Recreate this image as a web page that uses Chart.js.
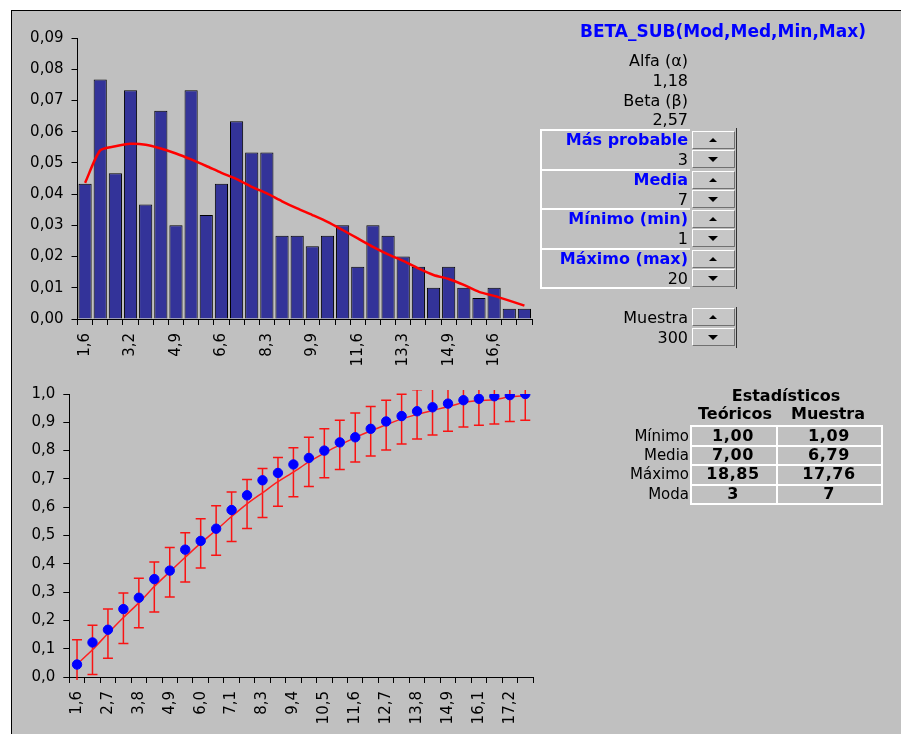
<!DOCTYPE html>
<html>
<head>
<meta charset="utf-8">
<script src="https://cdn.jsdelivr.net/npm/chart.js@4/dist/chart.umd.min.js"></script>
<style>
  html, body { margin:0; padding:0; }
  body { width:901px; height:734px; position:relative; overflow:hidden; background:#fff; font-family:"DejaVu Sans", sans-serif; }
  #frame { position:absolute; left:11px; top:10px; width:890px; height:724px; background:#c0c0c0; border-left:1px solid #000; border-top:1px solid #000; }
  canvas { position:absolute; left:0; top:0; }
  .t { position:absolute; white-space:nowrap; line-height:20px; height:20px; color:#000; font-size:16px; }
  .b { font-weight:bold; }
  .blue { color:#0000ff; }
  .title { font-size:17px; }
  .row { font-size:15px; }
  .val { font-size:16px; letter-spacing:0.6px; }
  .box { position:absolute; left:540px; width:148px; height:38px; border-top:2px solid #fff; border-left:2px solid #fff; }
  .btn { position:absolute; width:41px; height:16px; background:#c6c6c6; border-top:1px solid #fff; border-left:1px solid #fff; border-right:1px solid #707070; border-bottom:1px solid #707070; }
  .up::after { content:""; position:absolute; left:16px; top:6px; border-left:4px solid transparent; border-right:4px solid transparent; border-bottom:4px solid #000; }
  .dn::after { content:""; position:absolute; left:15px; top:6px; border-left:5px solid transparent; border-right:5px solid transparent; border-top:5px solid #000; }
  .vl { position:absolute; width:1px; background:#303030; }
  .wh { position:absolute; height:2px; background:#fff; }
  .wv { position:absolute; width:2px; background:#fff; }
</style>
</head>
<body>
<div id="frame"></div>
<canvas id="c1" width="901" height="734"></canvas>
<canvas id="c2" width="901" height="734"></canvas>
<div id="panel"></div>
<script>
// ---------- DATA ----------
const histLabels = ["1,6","2,1","2,7","3,2","3,8","4,4","4,9","5,5","6,0","6,6","7,1","7,7","8,3","8,8","9,4","9,9","10,5","11,0","11,6","12,1","12,7","13,3","13,8","14,4","14,9","15,5","16,0","16,6","17,1","17,7"];
const histFreq = [0.0433,0.0767,0.0467,0.0733,0.0367,0.0667,0.0300,0.0733,0.0333,0.0433,0.0633,0.0533,0.0533,0.0267,0.0267,0.0233,0.0267,0.0300,0.0167,0.0300,0.0267,0.0200,0.0167,0.0100,0.0167,0.0100,0.0067,0.0100,0.0033,0.0033];
const betaDensity = [0.0436,0.0540,0.0553,0.0561,0.0558,0.0546,0.0530,0.0511,0.0490,0.0468,0.0448,0.0423,0.0402,0.0377,0.0354,0.0333,0.0311,0.0285,0.0258,0.0231,0.0207,0.0186,0.0162,0.0141,0.0128,0.0109,0.0087,0.0074,0.0059,0.0043];

const cdfLabels = ["1,6","2,1","2,7","3,2","3,8","4,4","4,9","5,5","6,0","6,6","7,1","7,7","8,3","8,8","9,4","9,9","10,5","11,0","11,6","12,1","12,7","13,3","13,8","14,4","14,9","15,5","16,1","16,6","17,2","17,7"];
const empiricalCdf = [0.044,0.122,0.167,0.240,0.280,0.346,0.376,0.450,0.481,0.524,0.590,0.642,0.695,0.721,0.751,0.774,0.800,0.829,0.847,0.877,0.903,0.922,0.939,0.953,0.966,0.978,0.983,0.992,0.996,1.000];
const theoreticalCdf = [0.045,0.096,0.154,0.210,0.262,0.320,0.372,0.423,0.473,0.519,0.567,0.612,0.651,0.690,0.724,0.760,0.791,0.820,0.846,0.870,0.891,0.912,0.928,0.942,0.955,0.970,0.977,0.980,0.990,0.994];
const bandHigh = [0.132,0.183,0.240,0.297,0.349,0.406,0.458,0.510,0.559,0.605,0.654,0.698,0.737,0.776,0.810,0.847,0.877,0.907,0.933,0.956,0.978,0.999,1.015,1.029,1.042,1.057,1.064,1.067,1.077,1.081];
const bandLow = [-0.042,0.009,0.066,0.118,0.174,0.230,0.283,0.336,0.385,0.430,0.479,0.525,0.564,0.603,0.637,0.673,0.704,0.733,0.760,0.781,0.802,0.823,0.841,0.855,0.868,0.883,0.890,0.894,0.903,0.907];

// ---------- CHARTS ----------
const FONT = { family: "DejaVu Sans", size: 15 };
Chart.defaults.color = "#000";

function yAxis(width, step, dec, max) {
  return {
    min: 0, max: max,
    afterFit: s => { s.width = width; },
    afterBuildTicks: s => { s.ticks = s.ticks.filter(t => t.value <= max + 1e-9); },
    ticks: { stepSize: step, font: FONT, color: "#000", padding: 8,
      callback: v => v.toFixed(dec).replace(".", ",") },
    grid: { drawOnChartArea: false, drawTicks: true, tickLength: 6, color: "#000" },
    border: { display: true, color: "#000", width: 1 }
  };
}
function xAxis(height, every) {
  return {
    offset: true,
    afterFit: s => { s.height = height; },
    ticks: { autoSkip: false, minRotation: 90, maxRotation: 90, font: FONT, color: "#000", padding: 8,
      callback: function(v, i) { return i % every === 0 ? this.getLabelForValue(v) : ""; } },
    grid: { offset: true, drawOnChartArea: false, drawTicks: true, tickLength: 6, color: "#000" },
    border: { display: true, color: "#000", width: 1 }
  };
}

new Chart(document.getElementById("c1"), {
  type: "bar",
  data: {
    labels: histLabels,
    datasets: [
      { type: "line", data: betaDensity, borderColor: "#ff0000", borderWidth: 2.5, pointRadius: 0, tension: 0.25, order: 0 },
      { type: "bar", data: histFreq, backgroundColor: "#333399", borderColor: "#000", borderWidth: 1,
        categoryPercentage: 1, barPercentage: 0.87, order: 1 }
    ]
  },
  options: {
    responsive: false, animation: false,
    layout: { padding: { left: 12, top: 38, right: 369, bottom: 355 } },
    plugins: { legend: { display: false }, tooltip: { enabled: false } },
    scales: { x: xAxis(60, 3), y: yAxis(65.5, 0.01, 2, 0.09) }
  }
});

const errorBars = {
  id: "errorBars",
  beforeDatasetsDraw(chart) {
    const { ctx, chartArea, scales } = chart;
    ctx.save();
    ctx.beginPath();
    ctx.rect(chartArea.left - 20, chartArea.top - 4, chartArea.width + 40, chartArea.height + 7);
    ctx.clip();
    ctx.strokeStyle = "rgba(255,0,0,0.9)";
    ctx.lineWidth = 1.5;
    for (let i = 0; i < bandHigh.length; i++) {
      const x = scales.x.getPixelForValue(i);
      const yh = scales.y.getPixelForValue(bandHigh[i]);
      const yl = scales.y.getPixelForValue(bandLow[i]);
      ctx.beginPath();
      ctx.moveTo(x, yh); ctx.lineTo(x, yl);
      ctx.moveTo(x - 5, yh); ctx.lineTo(x + 5, yh);
      ctx.moveTo(x - 5, yl); ctx.lineTo(x + 5, yl);
      ctx.stroke();
    }
    ctx.restore();
  }
};

new Chart(document.getElementById("c2"), {
  type: "line",
  data: {
    labels: cdfLabels,
    datasets: [
      { data: empiricalCdf, showLine: false, pointRadius: 4.7, pointBackgroundColor: "#0000ff", pointBorderColor: "#0000ff", order: 0 },
      { data: theoreticalCdf, borderColor: "#ff2020", borderWidth: 1.5, pointRadius: 0, tension: 0.2, order: 1 }
    ]
  },
  options: {
    responsive: false, animation: false,
    layout: { padding: { left: 12, top: 394, right: 368, bottom: 7 } },
    plugins: { legend: { display: false }, tooltip: { enabled: false } },
    scales: { x: xAxis(50, 2), y: yAxis(57.3, 0.1, 1, 1.0) }
  },
  plugins: [errorBars]
});

// ---------- PANEL ----------
const P = document.getElementById("panel");
function txt(s, x, cy, cls, align) {
  const d = document.createElement("div");
  d.className = "t " + (cls || "");
  d.textContent = s;
  if (align === "c") { d.style.left = (x - 100) + "px"; d.style.width = "200px"; d.style.textAlign = "center"; }
  else { d.style.left = (x - 300) + "px"; d.style.width = "300px"; d.style.textAlign = "right"; }
  d.style.top = (cy - 10) + "px";
  P.appendChild(d);
}
function el(cls, x, y, w, h) {
  const d = document.createElement("div");
  d.className = cls;
  d.style.left = x + "px"; d.style.top = y + "px";
  if (w != null) d.style.width = w + "px";
  if (h != null) d.style.height = h + "px";
  P.appendChild(d);
}
txt("BETA_SUB(Mod,Med,Min,Max)", 866, 31, "b blue title");
txt("Alfa (\u03B1)", 688, 61);
txt("1,18", 688, 81);
txt("Beta (\u03B2)", 688, 101);
txt("2,57", 688, 120);

const params = [["M\u00E1s probable","3"],["Media","7"],["M\u00EDnimo (min)","1"],["M\u00E1ximo (max)","20"]];
const boxTops = [129, 169, 208, 248];
params.forEach((p, i) => {
  const t = boxTops[i];
  el("box", 540, t, null, null);
  txt(p[0], 688, t + 11, "b blue");
  txt(p[1], 688, t + 31);
  el("btn up", 692, t + 2);
  el("btn dn", 692, t + 21);
});
el("wh", 540, 287, 150);
el("vl", 736, 128, null, 161);

txt("Muestra", 688, 318);
txt("300", 688, 338);
el("btn up", 692, 308);
el("btn dn", 692, 328);
el("vl", 736, 307, null, 41);

// statistics table
txt("Estad\u00EDsticos", 786, 396, "b", "c");
txt("Te\u00F3ricos", 735, 414, "b", "c");
txt("Muestra", 828, 414, "b", "c");
[425, 445, 464, 484, 503].forEach(y => el("wh", 690, y, 192));
[690, 776, 881].forEach(x => el("wv", x, 425, null, 80));
const rows = [["M\u00EDnimo","1,00","1,09"],["Media","7,00","6,79"],["M\u00E1ximo","18,85","17,76"],["Moda","3","7"]];
const rowCy = [436, 455, 474, 494];
rows.forEach((r, i) => {
  txt(r[0], 689, rowCy[i], "row");
  txt(r[1], 733, rowCy[i], "b val", "c");
  txt(r[2], 829, rowCy[i], "b val", "c");
});
</script>
</body>
</html>
